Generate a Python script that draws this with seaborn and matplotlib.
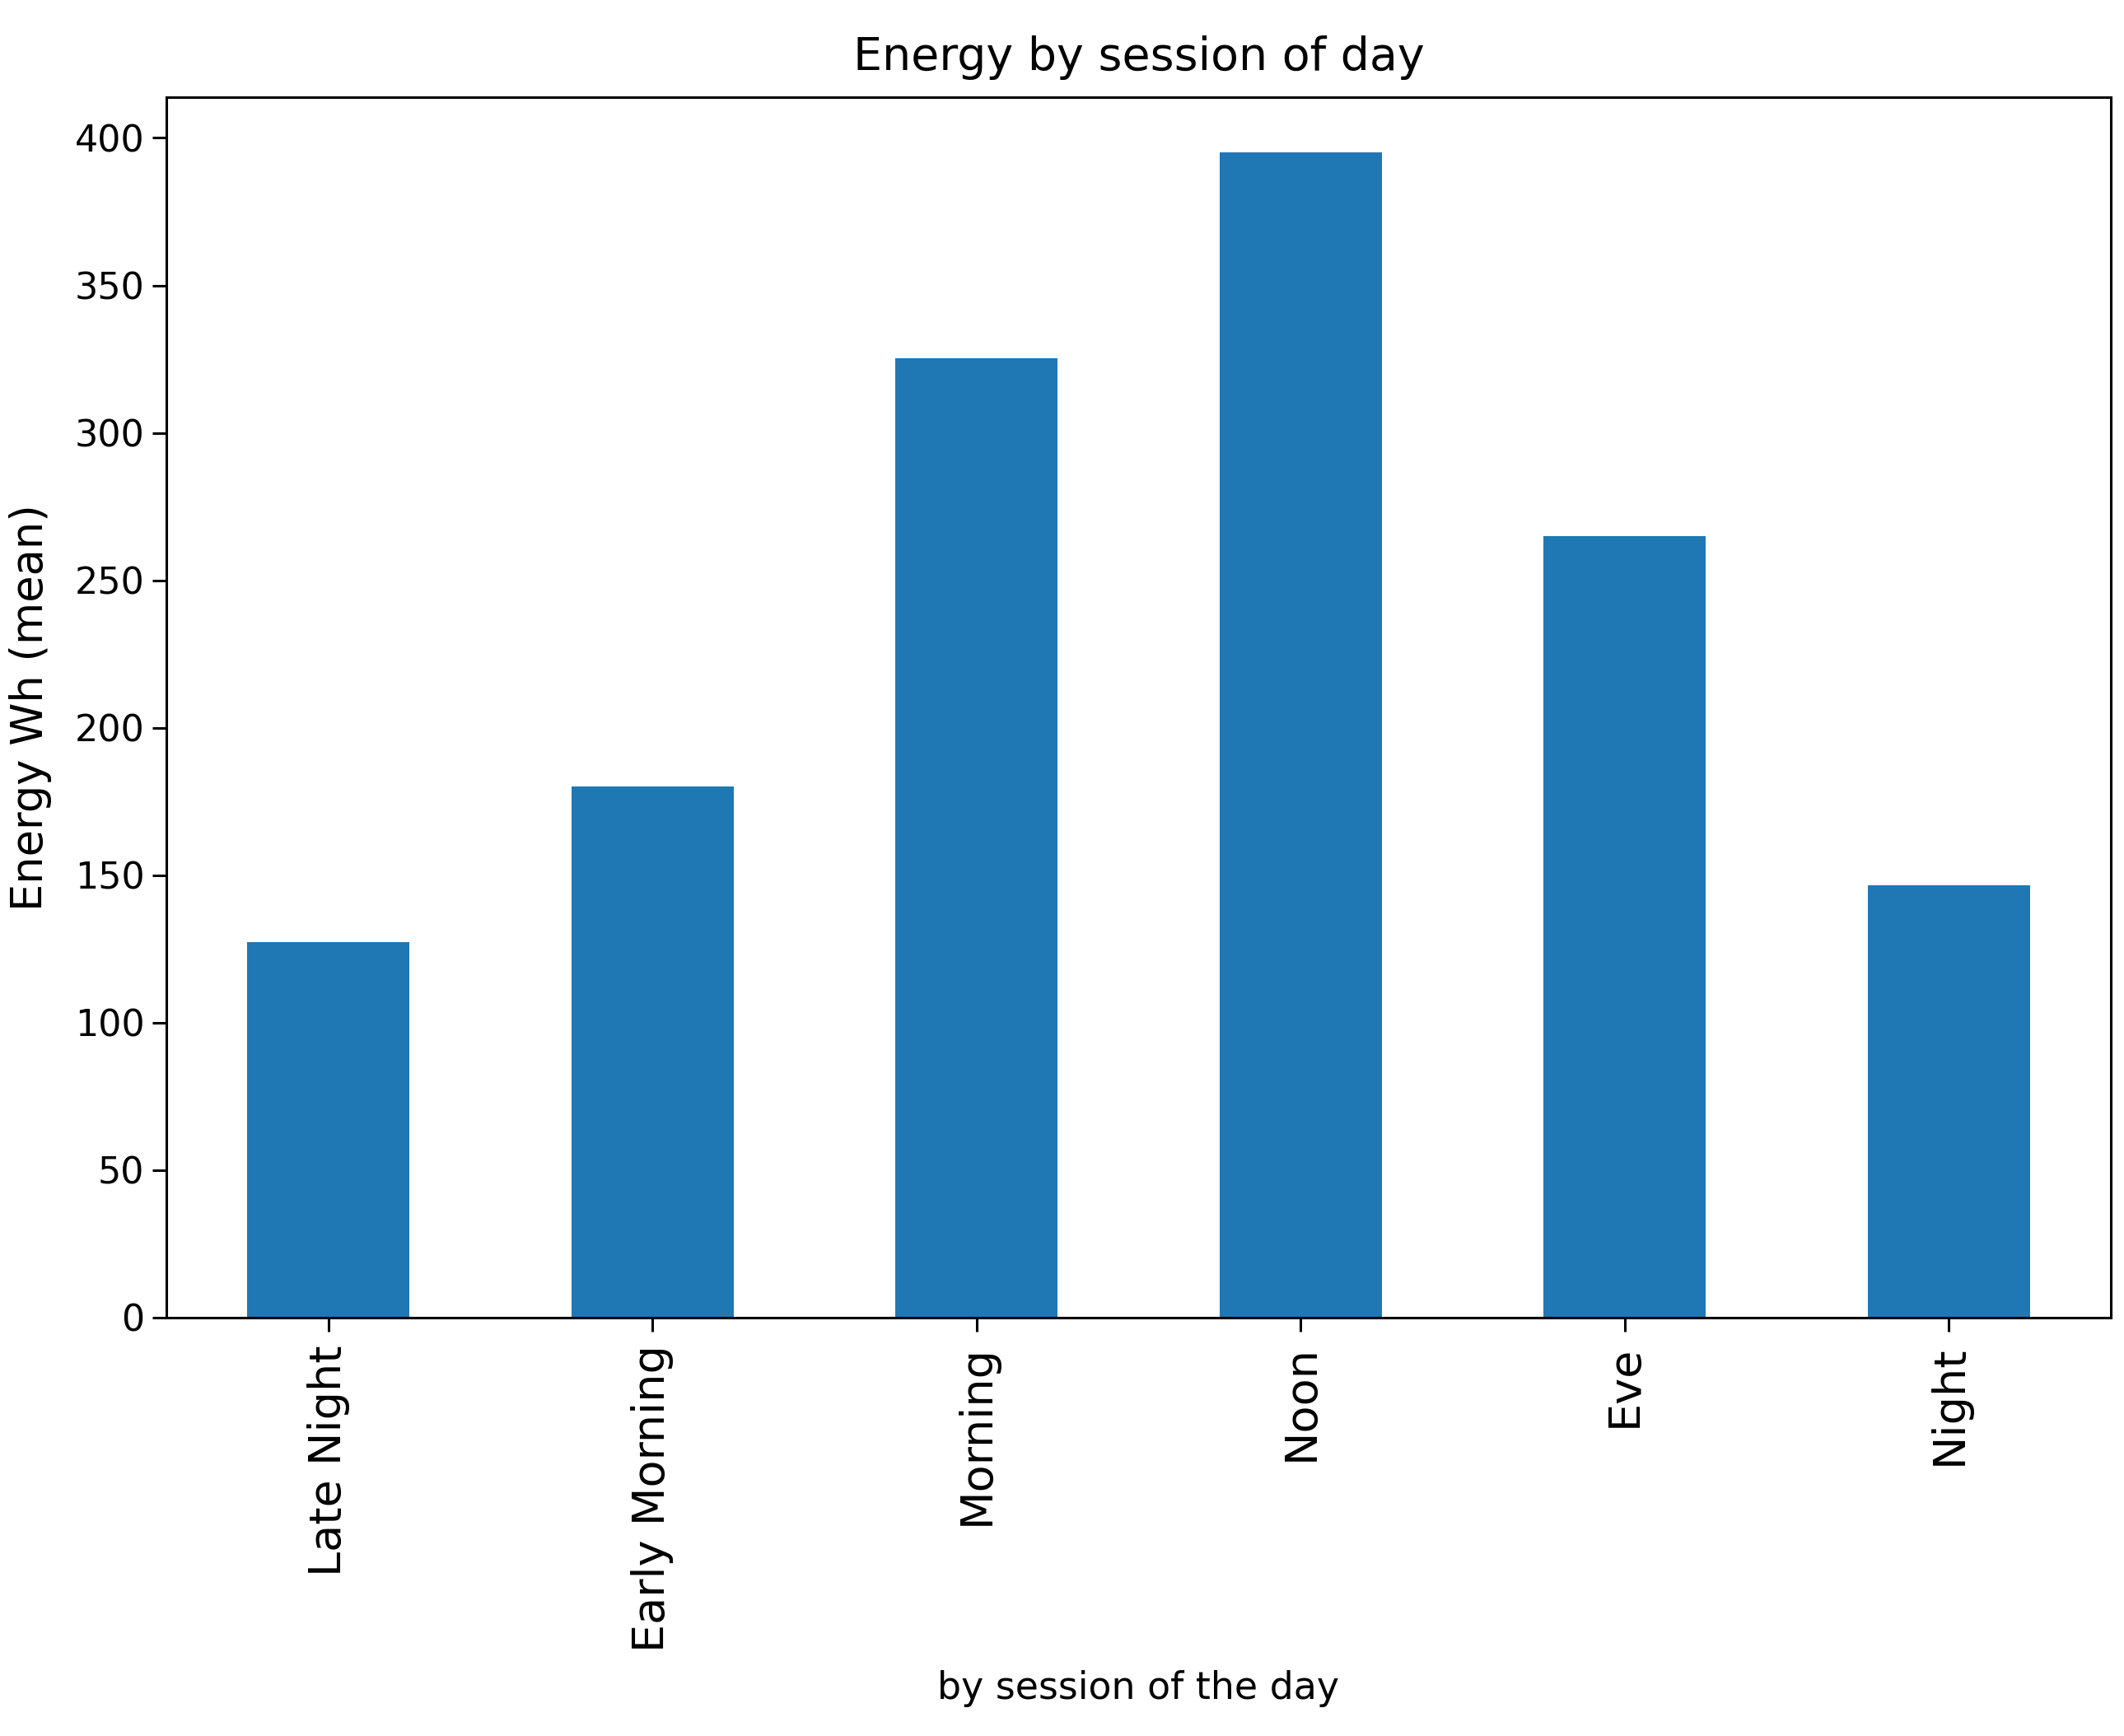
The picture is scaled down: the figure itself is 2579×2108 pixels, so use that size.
import matplotlib
matplotlib.use("Agg")
import matplotlib.pyplot as plt
import seaborn as sns
import pandas as pd

sessions = ["Late Night", "Early Morning", "Morning", "Noon", "Eve", "Night"]
energy_mean = [127.2, 180.0, 325.2, 395.0, 265.0, 146.5]
y_ticks = [0, 50, 100, 150, 200, 250, 300, 350, 400]

df = pd.DataFrame({"session": sessions, "energy": energy_mean})

plt.rcParams["font.family"] = ["DejaVu Sans"]
fig = plt.figure(figsize=(2579 / 200, 2108 / 200), dpi=200)
ax = fig.add_axes([0.0783, 0.241, 0.9938 - 0.0783, 0.944 - 0.241])

sns.barplot(data=df, x="session", y="energy", order=sessions, color="#1f77b4",
            saturation=1, width=0.5, ax=ax, errorbar=None)

ax.set_xlim(-0.5, len(sessions) - 0.5)
ax.set_ylim(0, 413.8)
ax.set_yticks(y_ticks)
ax.tick_params(axis="x", labelsize=19.5, rotation=90, length=6, width=1.1, pad=6)
ax.tick_params(axis="y", labelsize=16, length=6, width=1.1)
for s in ax.spines.values():
    s.set_linewidth(1.1)
    s.set_color("black")

ax.set_title("Energy by session of day", fontsize=20, pad=12)
ax.set_xlabel("by session of the day", fontsize=16.5, labelpad=8)
ax.set_ylabel("Energy Wh (mean)", fontsize=19, labelpad=10)

fig.savefig("out.png", dpi=200)
